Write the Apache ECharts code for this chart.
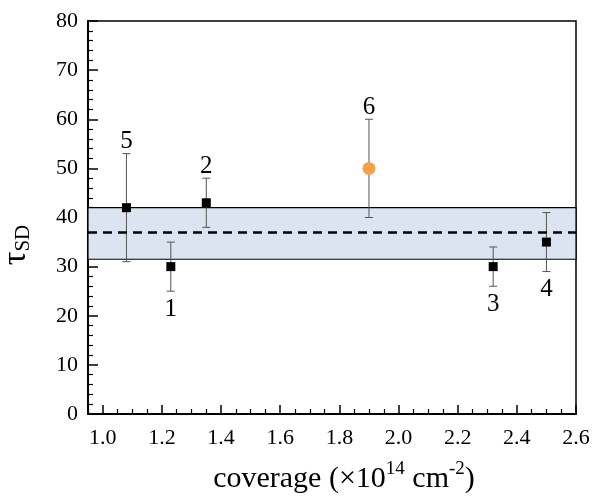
<!DOCTYPE html>
<html>
<head>
<meta charset="utf-8">
<script src="https://cdn.jsdelivr.net/npm/echarts@6/dist/echarts.min.js"></script>
<style>html,body{margin:0;padding:0;background:#fff;}#c{width:600px;height:502px;}</style>
</head>
<body>
<div id="c"></div>
<script>
// Data
const ids      = ['1', '2', '3', '4', '5', '6'];
const coverage = [1.23, 1.35, 2.32, 2.50, 1.08, 1.90];
const tauSD    = [30, 43, 30, 35, 42, 50];
const errLow   = [25, 38, 26, 29, 31, 40];
const errHigh  = [35, 48, 34, 41, 53, 60];
const labelPos = ['bottom', 'top', 'bottom', 'bottom', 'top', 'top'];
const highlighted = [false, false, false, false, false, true];
const bandLow = 31.5, bandHigh = 42, meanTau = 37;
const xMajorTicks = [1.0, 1.2, 1.4, 1.6, 1.8, 2.0, 2.2, 2.4, 2.6];
const xMinorTicks = [0.95, 1.05, 1.1, 1.15, 1.25, 1.3, 1.35, 1.45, 1.5, 1.55, 1.65, 1.7, 1.75, 1.85, 1.9, 1.95, 2.05, 2.1, 2.15, 2.25, 2.3, 2.35, 2.45, 2.5, 2.55];

const FONT = 'Liberation Serif';
const chart = echarts.init(document.getElementById('c'), null, {renderer: 'canvas'});

const errData = coverage.map((x, i) => [x, errLow[i], errHigh[i], tauSD[i], i]);
const blackPts = coverage.map((x, i) => highlighted[i] ? null : [x, tauSD[i]]).filter(d => d);
const orangePts = coverage.map((x, i) => highlighted[i] ? [x, tauSD[i]] : null).filter(d => d);

const xBase = {
  type: 'value', min: 0.95, max: 2.6, gridIndex: 0,
  splitLine: {show: false},
};

const option = {
  backgroundColor: '#fff',
  animation: false,
  textStyle: {fontFamily: FONT},
  grid: {left: 88, right: 24, top: 21, bottom: 88, show: true, borderColor: '#000', borderWidth: 1.5,
    backgroundColor: 'transparent', containLabel: false, outerBoundsMode: 'none'},
  xAxis: [
    Object.assign({}, xBase, {
      position: 'bottom',
      axisLine: {show: true, lineStyle: {color: '#000', width: 2}},
      axisTick: {show: true, inside: true, length: 9, lineStyle: {color: '#000', width: 1.5}, customValues: xMajorTicks},
      axisLabel: {show: true, color: '#000', fontFamily: FONT, fontSize: 22, margin: 13,
        customValues: xMajorTicks, formatter: v => v.toFixed(1)},
      name: '{a|coverage (×10}{sup|14}{a| cm}{sup|-2}{a|)}',
      nameLocation: 'middle', nameGap: 46,
      nameTextStyle: {
        fontFamily: FONT,
        padding: [0, 0, 0, 24],
        rich: {
          a: {fontFamily: FONT, fontSize: 30, color: '#000', verticalAlign: 'bottom', lineHeight: 34},
          sup: {fontFamily: FONT, fontSize: 19, color: '#000', verticalAlign: 'top', lineHeight: 34, padding: [0, 0, 12, 0]}
        }
      }
    }),
    Object.assign({}, xBase, {
      position: 'bottom',
      axisLine: {show: false},
      axisTick: {show: true, inside: true, length: 5, lineStyle: {color: '#000', width: 1.2}, customValues: xMinorTicks},
      axisLabel: {show: false}
    })
  ],
  yAxis: {
    type: 'value', min: 0, max: 80, interval: 10,
    splitLine: {show: false},
    axisLine: {show: true, lineStyle: {color: '#000', width: 2}},
    axisTick: {show: true, inside: true, length: 10, lineStyle: {color: '#000', width: 1.5}},
    minorTick: {show: true, splitNumber: 5, length: 5, lineStyle: {color: '#000', width: 1.2}},
    minorSplitLine: {show: false},
    axisLabel: {color: '#000', fontFamily: FONT, fontSize: 22, margin: 10},
    name: '{t|τ}{s|SD}',
    nameLocation: 'middle', nameGap: 54, nameRotate: 90,
    nameTextStyle: {
      fontFamily: FONT,
      padding: [0, 55, 0, 0],
      rich: {
        t: {fontFamily: FONT, fontSize: 34, color: '#000', lineHeight: 36},
        s: {fontFamily: FONT, fontSize: 21, color: '#000', lineHeight: 36, padding: [14, 0, 0, 0]}
      }
    }
  },
  series: [
    {
      type: 'line', data: [], xAxisIndex: 0, z: 1, silent: true,
      markArea: {
        silent: true,
        itemStyle: {color: '#dbe4f0', borderColor: '#000', borderWidth: 1.2},
        data: [[{yAxis: bandLow}, {yAxis: bandHigh}]]
      },
      markLine: {
        silent: true, symbol: 'none', label: {show: false},
        lineStyle: {color: '#000', width: 2.5, type: [9, 6]},
        data: [{yAxis: meanTau}]
      }
    },
    {
      type: 'custom', xAxisIndex: 0, z: 3, data: errData,
      renderItem: function (params, api) {
        const x = api.value(0);
        const lo = api.coord([x, api.value(1)]);
        const hi = api.coord([x, api.value(2)]);
        const i = api.value(4);
        const cap = 4;
        const style = {stroke: '#555', lineWidth: 1};
        const children = [
          {type: 'line', shape: {x1: lo[0], y1: lo[1], x2: hi[0], y2: hi[1]}, style: style},
          {type: 'line', shape: {x1: lo[0] - cap, y1: lo[1], x2: lo[0] + cap, y2: lo[1]}, style: style},
          {type: 'line', shape: {x1: hi[0] - cap, y1: hi[1], x2: hi[0] + cap, y2: hi[1]}, style: style}
        ];
        const top = labelPos[i] === 'top';
        children.push({
          type: 'text',
          style: {
            text: ids[i], x: hi[0], y: top ? hi[1] - 12 : lo[1] + 18,
            align: 'center', verticalAlign: 'middle',
            fontFamily: FONT, fontSize: 25, fill: '#000'
          }
        });
        return {type: 'group', children: children};
      }
    },
    {
      type: 'scatter', xAxisIndex: 0, z: 4, data: blackPts,
      symbol: 'rect', symbolSize: 9, itemStyle: {color: '#000', opacity: 1}
    },
    {
      type: 'scatter', xAxisIndex: 0, z: 4, data: orangePts,
      symbol: 'circle', symbolSize: 13, itemStyle: {color: '#f5a04c', opacity: 1}
    }
  ]
};
chart.setOption(option);
</script>
</body>
</html>
